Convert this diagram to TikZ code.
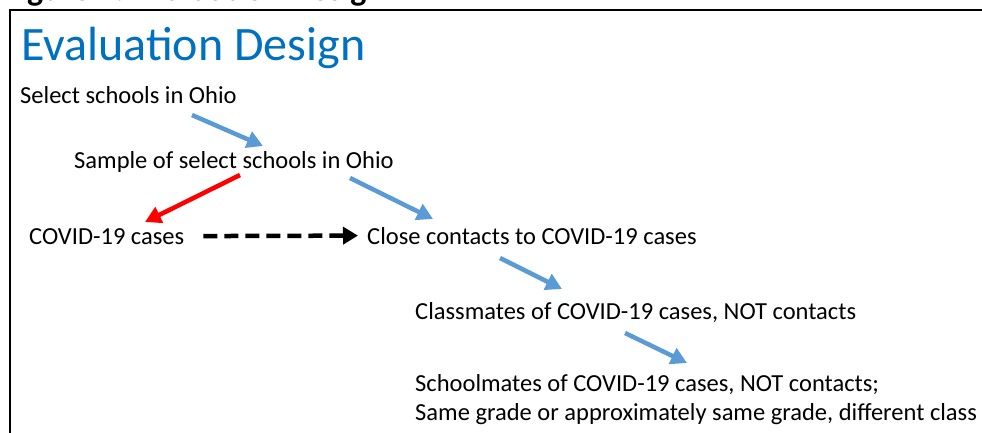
\documentclass[tikz,border=0pt]{standalone}
\usepackage{fontspec}
\setmainfont{Carlito}
\usepackage{xcolor}
\usetikzlibrary{arrows.meta}

\definecolor{titleblue}{RGB}{0,112,192}
\definecolor{arrowblue}{RGB}{91,155,213}
\definecolor{arrowred}{RGB}{255,0,0}

\begin{document}
\begin{tikzpicture}[
    x=1pt, y=-1pt,
    txt/.style={anchor=base west, inner sep=0pt, font=\fontsize{24.5}{29}\selectfont},
    flow/.style={line width=4.5pt, color=arrowblue, -{Triangle[length=16pt,width=17pt]}},
    redflow/.style={flow, color=arrowred},
    dashflow/.style={line width=4.5pt, black, dash pattern=on 14pt off 7pt, -{Triangle[length=15pt,width=17pt]}}
]
\useasboundingbox (0,0) rectangle (982,433);

% cut-off caption and frame
\node[anchor=base west, inner sep=0pt, font=\bfseries\fontsize{34}{40}\selectfont] (cap) at (3,0.5) {Figure 1. Evaluation Design};
\draw[line width=2pt] (10,440) -- (10,10) -- (990,10);

% title and steps
\node[anchor=base west, inner sep=0pt, text=titleblue, font=\fontsize{48}{56}\selectfont] (title) at (21,61) {Evaluation Design};
\node[txt] (sel) at (20,104) {Select schools in Ohio};
\node[txt] (samp) at (74,168) {Sample of select schools in Ohio};
\node[txt] (cases) at (29,244) {COVID-19 cases};
\node[txt] (close) at (367,244) {Close contacts to COVID-19 cases};
\node[txt] (class) at (415,319) {Classmates of COVID-19 cases, NOT contacts};
\node[txt, align=left] (school) at (415,420) {Schoolmates of COVID-19 cases, NOT contacts;\\Same grade or approximately same grade, different class};

% arrow ends
\coordinate (a1) at (192,115);
\coordinate (b1) at (263,146);
\coordinate (a2) at (240,175);
\coordinate (b2) at (145,222);
\coordinate (a3) at (350,178);
\coordinate (b3) at (433,219);
\coordinate (a5) at (500,258);
\coordinate (b5) at (562,289);
\coordinate (a6) at (625,333);
\coordinate (b6) at (687,363);

\draw[flow] (a1) -- (b1);
\draw[redflow] (a2) -- (b2);
\draw[flow] (a3) -- (b3);
\draw[dashflow, shorten <=19pt, shorten >=9pt] (cases.east) -- (close.west);
\draw[flow] (a5) -- (b5);
\draw[flow] (a6) -- (b6);
\end{tikzpicture}
\end{document}
